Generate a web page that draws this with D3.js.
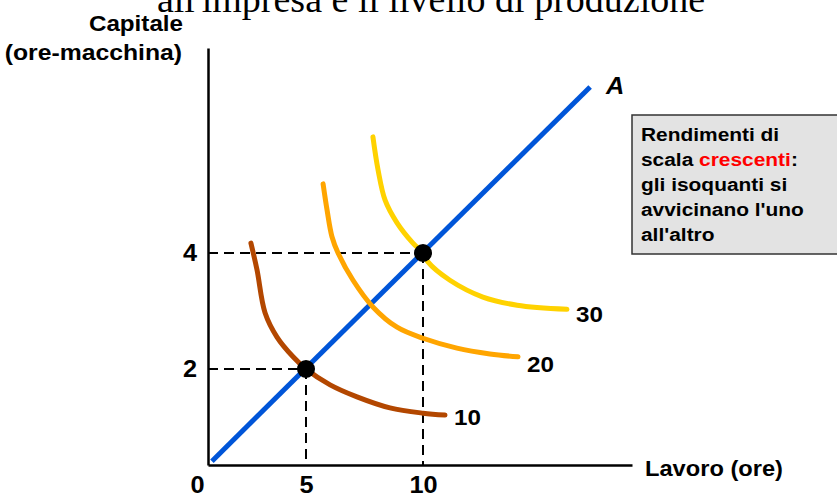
<!DOCTYPE html>
<html>
<head>
<meta charset="utf-8">
<script src="https://cdn.jsdelivr.net/npm/d3@7"></script>
<style>
  body { margin: 0; background: #fff; }
  svg { display: block; }
  text { font-family: "Liberation Sans", Arial, sans-serif; font-weight: bold; }
</style>
</head>
<body>
<div id="chart"></div>
<script>
var width = 837, height = 493;

// values
var xTicks = [0, 5, 10];
var yTicks = [2, 4];
var points = [[5, 2], [10, 4]];
var rayA = [[0.2, 0.08], [17.14, 6.86]];
var iso10 = [[2.19, 4.17], [2.5, 3.71], [2.91, 2.97], [3.52, 2.55], [4.34, 2.21], [5, 2],
  [6.03, 1.67], [7.18, 1.42], [8.59, 1.19], [10, 1.08], [10.94, 1.04]];
var iso20 = [[5.73, 5.19], [5.9, 4.74], [6.11, 4.28], [6.37, 4.0], [7.01, 3.53], [7.86, 3.07],
  [8.89, 2.72], [10, 2.53], [11.45, 2.36], [12.86, 2.26], [14.06, 2.21]];
var iso30 = [[7.86, 6.0], [8.08, 5.43], [8.38, 4.91], [8.89, 4.52], [9.57, 4.17], [10, 4],
  [10.2, 3.85], [11.15, 3.53], [12.56, 3.24], [14.02, 3.10], [16.15, 3.03]];
var isoLabels = ["10", "20", "30"];
var isoColors = ["#b34700", "#ffa500", "#ffd200"];
var boxLines = [
  [["Rendimenti di", "#000"]],
  [["scala ", "#000"], ["crescenti", "#ff0000"], [":", "#000"]],
  [["gli isoquanti si", "#000"]],
  [["avvicinano l'uno", "#000"]],
  [["all'altro", "#000"]]
];

var svg = d3.select("#chart")
  .append("svg")
  .attr("width", width)
  .attr("height", height);

// the drawing is not evenly spaced, so the scales are piecewise
var x = d3.scaleLinear()
  .domain([0, 5, 10, 18.93])
  .range([208, 306, 423, 632]);

var y = d3.scaleLinear()
  .domain([0, 2, 4, 7.53])
  .range([465, 369, 253, 48]);

// title (cut off at the top of the picture)
svg.append("text")
  .attr("x", 431)
  .attr("y", 12)
  .attr("text-anchor", "middle")
  .style("font-family", "'Liberation Serif', 'Times New Roman', serif")
  .style("font-weight", "normal")
  .style("font-size", "38px")
  .text("all'impresa e il livello di produzione");

// dashed guides
var guides = svg.append("g")
  .attr("stroke", "#000")
  .attr("stroke-width", 2)
  .attr("stroke-dasharray", "10,6");

points.forEach(function(p) {
  guides.append("line")
    .attr("x1", x(0)).attr("y1", y(p[1]))
    .attr("x2", x(p[0])).attr("y2", y(p[1]));
  guides.append("line")
    .attr("x1", x(p[0])).attr("y1", y(p[1]))
    .attr("x2", x(p[0])).attr("y2", y(0));
});

// axes
var xAxis = svg.append("g")
  .attr("transform", "translate(0," + y(0) + ")")
  .call(d3.axisBottom(x).tickValues(xTicks).tickSize(0).tickPadding(12).tickFormat(d3.format("d")));

var yAxis = svg.append("g")
  .attr("transform", "translate(" + x(0) + ",0)")
  .call(d3.axisLeft(y).tickValues(yTicks).tickSize(0).tickPadding(10).tickFormat(d3.format("d")));

[xAxis, yAxis].forEach(function(a) {
  a.select(".domain").attr("stroke", "#000").attr("stroke-width", 2.5);
  a.selectAll(".tick text")
    .style("font-size", "23px")
    .style("font-family", "'Liberation Sans', Arial, sans-serif")
    .style("font-weight", "bold")
    .attr("fill", "#000")
    .attr("transform", "scale(1.1,1)");
});
// the 0 sits a bit left of the corner
xAxis.selectAll(".tick").filter(function(d) { return d === 0; })
  .select("text").attr("dx", "-10");

// axis titles
function label(txt, px, py, size, anchor, italic) {
  return svg.append("text")
    .attr("transform", "translate(" + px + "," + py + ") scale(1.1,1)")
    .attr("text-anchor", anchor)
    .style("font-size", size + "px")
    .style("font-style", italic ? "italic" : "normal")
    .text(txt);
}
label("Capitale", 183, 31, 22, "end");
label("(ore-macchina)", 182, 60, 22.5, "end");
label("Lavoro (ore)", 645, 476, 21.5, "start");

var line = d3.line()
  .x(function(d) { return x(d[0]); })
  .y(function(d) { return y(d[1]); });

// ray A
svg.append("path")
  .datum(rayA)
  .attr("d", line)
  .attr("fill", "none")
  .attr("stroke", "#0055d8")
  .attr("stroke-width", 5);
label("A", 606, 94, 23, "start", true);

// isoquants
var curve = d3.line()
  .curve(d3.curveCatmullRom)
  .x(function(d) { return x(d[0]); })
  .y(function(d) { return y(d[1]); });

[iso10, iso20, iso30].forEach(function(iso, i) {
  svg.append("path")
    .datum(iso)
    .attr("d", curve)
    .attr("fill", "none")
    .attr("stroke", isoColors[i])
    .attr("stroke-width", 5)
    .attr("stroke-linecap", "round");
  var last = iso[iso.length - 1];
  label(isoLabels[i], x(last[0]) + 9, y(last[1]) + [10, 15, 13][i], 22, "start");
});

// points
svg.selectAll("circle.pt")
  .data(points)
  .join("circle")
  .attr("class", "pt")
  .attr("cx", function(d) { return x(d[0]); })
  .attr("cy", function(d) { return y(d[1]); })
  .attr("r", 9)
  .attr("fill", "#000");

// note box
svg.append("rect")
  .attr("x", 632)
  .attr("y", 115)
  .attr("width", 220)
  .attr("height", 139)
  .attr("fill", "#e3e3e3")
  .attr("stroke", "#333")
  .attr("stroke-width", 1.5);

var note = svg.append("text")
  .attr("transform", "translate(641,0) scale(1.1,1)")
  .style("font-size", "19px");

boxLines.forEach(function(parts, i) {
  var t = note.append("tspan")
    .attr("x", 0)
    .attr("y", 141 + i * 25);
  parts.forEach(function(p, j) {
    (j === 0 ? t : note.append("tspan"))
      .attr("fill", p[1])
      .text(p[0]);
  });
});
</script>
</body>
</html>
